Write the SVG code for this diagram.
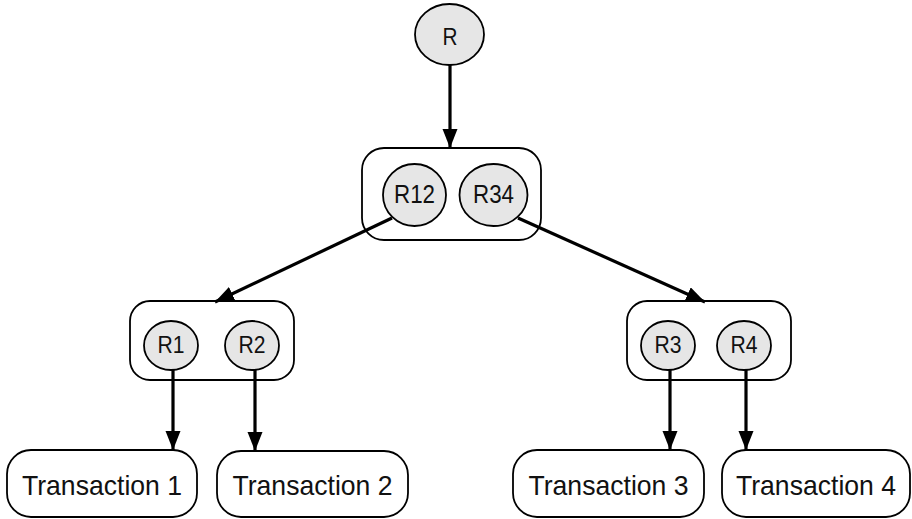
<svg xmlns="http://www.w3.org/2000/svg" width="912" height="519" viewBox="0 0 912 519">
<defs>
<style>
.box{fill:#fff;stroke:#000;stroke-width:1.8}
.node{fill:#e6e6e6;stroke:#000;stroke-width:1.8}
.lbl{font-family:"Liberation Sans",Arial,sans-serif;font-size:23px;fill:#111;text-anchor:middle}
.tx{font-family:"Liberation Sans",Arial,sans-serif;font-size:28px;fill:#111;text-anchor:middle}
.edge{stroke:#000;stroke-width:3.2;fill:none;marker-end:url(#ah)}
</style>
<marker id="ah" markerUnits="userSpaceOnUse" markerWidth="20" markerHeight="16" refX="19" refY="7.5" orient="auto" viewBox="0 0 20 16">
<path d="M0,0 L19,7.5 L0,15 z" fill="#000"/>
</marker>
</defs>
<g id="root">
<ellipse class="node" cx="449.5" cy="34.5" rx="34.5" ry="30.5"/>
<text class="lbl" x="450" y="45" textLength="15" lengthAdjust="spacingAndGlyphs">R</text>
</g>
<g id="mid">
<rect class="box" x="362" y="148" width="179" height="92" rx="22"/>
<ellipse class="node" cx="414.5" cy="195" rx="31.5" ry="31"/>
<text class="lbl" x="414.5" y="203" style="font-size:25px" textLength="41" lengthAdjust="spacingAndGlyphs">R12</text>
<ellipse class="node" cx="493.5" cy="195" rx="34" ry="31"/>
<text class="lbl" x="493.5" y="203" style="font-size:25px" textLength="41" lengthAdjust="spacingAndGlyphs">R34</text>
</g>
<g id="left">
<rect class="box" x="130" y="301" width="164" height="79" rx="20"/>
<ellipse class="node" cx="171" cy="345.5" rx="27" ry="24.5"/>
<text class="lbl" x="171" y="353" textLength="27" lengthAdjust="spacingAndGlyphs">R1</text>
<ellipse class="node" cx="252" cy="345.5" rx="27" ry="24.5"/>
<text class="lbl" x="252" y="353" textLength="27" lengthAdjust="spacingAndGlyphs">R2</text>
</g>
<g id="right">
<rect class="box" x="627" y="301" width="164" height="79" rx="20"/>
<ellipse class="node" cx="668" cy="345.5" rx="27" ry="24.5"/>
<text class="lbl" x="668" y="353" textLength="27" lengthAdjust="spacingAndGlyphs">R3</text>
<ellipse class="node" cx="744" cy="345.5" rx="27" ry="24.5"/>
<text class="lbl" x="744" y="353" textLength="27" lengthAdjust="spacingAndGlyphs">R4</text>
</g>
<g id="t1">
<rect class="box" x="7" y="450" width="190" height="67" rx="24"/>
<text class="tx" x="102" y="494.5" textLength="160" lengthAdjust="spacingAndGlyphs">Transaction 1</text>
</g>
<g id="t2">
<rect class="box" x="217" y="451" width="191" height="66" rx="24"/>
<text class="tx" x="312.5" y="494.5" textLength="160" lengthAdjust="spacingAndGlyphs">Transaction 2</text>
</g>
<g id="t3">
<rect class="box" x="513" y="450" width="191" height="67" rx="24"/>
<text class="tx" x="608.5" y="494.5" textLength="160" lengthAdjust="spacingAndGlyphs">Transaction 3</text>
</g>
<g id="t4">
<rect class="box" x="722" y="450" width="188" height="67" rx="24"/>
<text class="tx" x="816" y="494.5" textLength="160" lengthAdjust="spacingAndGlyphs">Transaction 4</text>
</g>
<g id="connectors">
<line class="edge" x1="450" y1="65" x2="450" y2="148"/>
<line class="edge" x1="392" y1="218" x2="215" y2="302"/>
<line class="edge" x1="518" y1="218" x2="705" y2="302"/>
<line class="edge" x1="173" y1="370" x2="173" y2="450"/>
<line class="edge" x1="255" y1="370" x2="255" y2="451"/>
<line class="edge" x1="670" y1="370" x2="670" y2="450"/>
<line class="edge" x1="746" y1="370" x2="746" y2="450"/>
</g>
</svg>
